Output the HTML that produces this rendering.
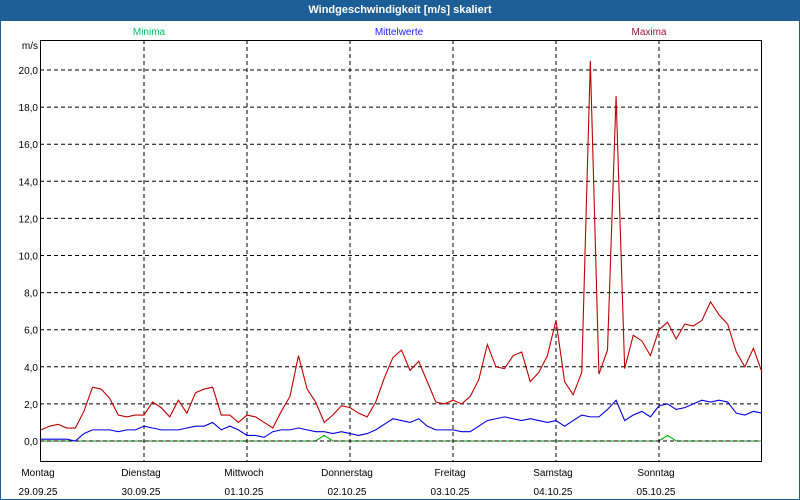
<!DOCTYPE html>
<html><head><meta charset="utf-8"><style>
body{margin:0;background:#fff;font-family:"Liberation Sans",sans-serif}
#wrap{position:relative;width:798px;height:498px;border:1px solid #1d5e96;overflow:hidden;background:#fff}
#title{position:absolute;left:0;top:0;width:798px;height:20px;background:#1d5e96;color:#fff;font-size:11px;font-weight:bold;text-align:center;line-height:19px}
svg{position:absolute;left:0;top:0}
text{font-family:"Liberation Sans",sans-serif;font-size:10px}
</style></head><body>
<div id="wrap">
<div id="title">Windgeschwindigkeit [m/s] skaliert</div>
<svg id="chart" width="798" height="498"></svg>
</div>
<script>
const days=["Montag","Dienstag","Mittwoch","Donnerstag","Freitag","Samstag","Sonntag"];
const dates=["29.09.25","30.09.25","01.10.25","02.10.25","03.10.25","04.10.25","05.10.25"];
const yTicks=[0,2,4,6,8,10,12,14,16,18,20];
const maxima=[0.6,0.8,0.9,0.7,0.7,1.6,2.9,2.8,2.3,1.4,1.3,1.4,
1.4,2.1,1.8,1.3,2.2,1.5,2.6,2.8,2.9,1.4,1.4,1.0,
1.4,1.3,1.0,0.7,1.6,2.4,4.6,2.8,2.1,1.0,1.4,1.9,
1.8,1.5,1.3,2.1,3.4,4.5,4.9,3.8,4.3,3.2,2.1,2.0,
2.2,2.0,2.4,3.3,5.2,4.0,3.9,4.6,4.8,3.2,3.7,4.6,
6.5,3.2,2.5,3.7,20.5,3.6,4.9,18.6,3.9,5.7,5.4,4.6,
6.0,6.4,5.5,6.3,6.2,6.5,7.5,6.8,6.3,4.8,4.0,5.0,3.7];
const means=[0.1,0.1,0.1,0.1,0.0,0.4,0.6,0.6,0.6,0.5,0.6,0.6,
0.8,0.7,0.6,0.6,0.6,0.7,0.8,0.8,1.0,0.6,0.8,0.6,
0.3,0.3,0.2,0.5,0.6,0.6,0.7,0.6,0.5,0.5,0.4,0.5,
0.4,0.3,0.4,0.6,0.9,1.2,1.1,1.0,1.2,0.8,0.6,0.6,
0.6,0.5,0.5,0.8,1.1,1.2,1.3,1.2,1.1,1.2,1.1,1.0,
1.1,0.8,1.1,1.4,1.3,1.3,1.7,2.2,1.1,1.4,1.6,1.3,
1.9,2.0,1.7,1.8,2.0,2.2,2.1,2.2,2.1,1.5,1.4,1.6,1.5];
const minima=[0,0,0,0,0,0,0,0,0,0,0,0, 0,0,0,0,0,0,0,0,0,0,0,0,
0,0,0,0,0,0,0,0,0,0.3,0,0, 0,0,0,0,0,0,0,0,0,0,0,0,
0,0,0,0,0,0,0,0,0,0,0,0, 0,0,0,0,0,0,0,0,0,0,0,0,
0,0.3,0,0,0,0,0,0,0,0,0,0,0];
const X0=40,DAY=103,PL=39,PT=39,PR=760,PB=460;
const xs=i=>X0+i*DAY/12;
const ys=v=>440-v*18.55;
const svg=document.getElementById('chart');
const NS='http://www.w3.org/2000/svg';
function mk(t,a){const e=document.createElementNS(NS,t);for(const k in a)e.setAttribute(k,a[k]);svg.appendChild(e);return e;}
function series(arr,col,name){
 const p=mk('polyline',{points:arr.map((v,i)=>xs(i)+','+ys(v)).join(' '),fill:'none',stroke:col,'stroke-width':1.1});
 
 
}
series(minima,'#00b000','minima-line');
yTicks.forEach(v=>{
 const l=mk('line',{x1:PL,x2:PR,y1:ys(v),y2:ys(v),stroke:'#000','stroke-dasharray':'4,3'});
 
 
 const t=mk('text',{x:37,y:ys(v)+4,'text-anchor':'end'});t.textContent=v.toFixed(1).replace('.',',');
 
 
});
days.forEach((d,i)=>{
 const x=X0+i*DAY;
 if(i>0){const l=mk('line',{x1:x,x2:x,y1:PT,y2:PB,stroke:'#000','stroke-dasharray':'4,3'});
 
 }
 const t=mk('text',{x:x-3,y:475,'text-anchor':'middle'});t.textContent=d;
 
 
 const t2=mk('text',{x:x-3,y:494,'text-anchor':'middle'});t2.textContent=dates[i];
 
 
});
const fr=mk('rect',{x:PL+0.5,y:PT+0.5,width:PR-PL,height:PB-PT,fill:'none',stroke:'#000'});


const u=mk('text',{x:37,y:48,'text-anchor':'end'});u.textContent='m/s';


series(means,'#0000e0','mean-line');
series(maxima,'#c00000','maxima-line');
[['Minima',148,'#00c060'],['Mittelwerte',398,'#2020ff'],['Maxima',648,'#a01040']].forEach(([n,x,c])=>{
 const t=mk('text',{x:x,y:34,'text-anchor':'middle',fill:c});t.textContent=n;
 
 
});
</script>
</body></html>
